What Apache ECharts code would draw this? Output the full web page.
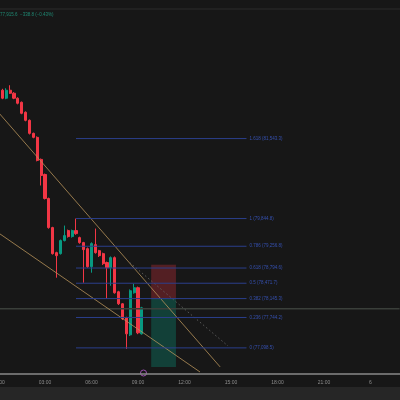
<!DOCTYPE html>
<html>
<head>
<meta charset="utf-8">
<script src="https://cdn.jsdelivr.net/npm/echarts@6/dist/echarts.min.js"></script>
<style>
  html, body { margin: 0; padding: 0; background: #171717; }
  #chart { width: 400px; height: 400px; }
</style>
</head>
<body>
<div id="chart"></div>
<script>
// 15 minute candles, [open, close, low, high]
let candles = [
    [82783, 82676, 82650, 82800], [82570, 82400, 82380, 82600], [82400, 82570, 82380, 82612],
    [82570, 82506, 82490, 82676], [82506, 82400, 82380, 82530], [82400, 82293, 82270, 82420],
    [82314, 82080, 82060, 82330], [82102, 81931, 81910, 82120], [81931, 81654, 81630, 81950],
    [81654, 81569, 81550, 81670], [81569, 81080, 81060, 81590], [81101, 80760, 80547, 81120],
    [80781, 80271, 80250, 80800], [80271, 79653, 79630, 80290], [79653, 79100, 79080, 79670],
    [79121, 79057, 78589, 79140], [79100, 79377, 79080, 79400], [79377, 79483, 79360, 79696],
    [79589, 79462, 79440, 79610], [79462, 79589, 79440, 79610], [79589, 79525, 79500, 79845],
    [79440, 79334, 79310, 79460], [79334, 79185, 78482, 79350], [79206, 78823, 78800, 79230],
    [78823, 79313, 78695, 79340], [79291, 79121, 79100, 79632], [79163, 79057, 79030, 79180],
    [79100, 78887, 78860, 79120], [78910, 78802, 78142, 78930], [78802, 79015, 78418, 79040],
    [79015, 78269, 78250, 79040], [78290, 78035, 78010, 78310], [78035, 77716, 77690, 78050],
    [77737, 77397, 77077, 77760], [77375, 78312, 77350, 78340], [78269, 78376, 78250, 78461],
    [78376, 77418, 77390, 78400], [77397, 77950, 77380, 77970]
];
let fibPrices = [81543.3, 79844.8, 79256.8, 78794.6, 78471.7, 78145.3, 77744.2, 77098.5];
let fibLabels = ['1.618 (81,543.3)', '1 (79,844.8)', '0.786 (79,256.8)', '0.618 (78,794.6)',
    '0.5 (78,471.7)', '0.382 (78,145.3)', '0.236 (77,744.2)', '0 (77,098.5)'];
let fibStart = 20, fibEnd = 64;
let upperTrend = [[-0.5, 82144], [57.2, 76694]];
let lowerTrend = [[-0.5, 79568], [52.0, 76587]];
let dottedTrend = [[33.9, 78908], [59.2, 77141]];
let lastPrice = 77929;
let stopBox = [39.4, 45.8, 78865, 78142];
let targetBox = [39.4, 45.8, 78142, 76694];

let slots = [];
for (let i = 0; i < 104; i++) {
    let m = i * 15;
    let h = Math.floor(m / 60) % 24;
    slots.push((h < 10 ? '0' : '') + h + ':' + (m % 60 === 0 ? '00' : String(m % 60)));
}

let chart = echarts.init(document.getElementById('chart'));
let yMin = 76544, yMax = 84486;
let fibSeries = fibPrices.map(function (p, k) {
    return {
        type: 'line', xAxisIndex: 1, symbol: 'none', silent: true,
        data: [[fibStart, p], [fibEnd, p]],
        lineStyle: { color: '#2b3f8c', width: 1 },
        endLabel: { show: true, formatter: fibLabels[k], color: '#3550b0', fontSize: 4.5, distance: 3 }
    };
});

chart.setOption({
    backgroundColor: '#171717',
    animation: false,
    grid: { left: -3.44, right: 0.44, top: 0, bottom: 26, containLabel: false, outerBoundsMode: 'none' },
    xAxis: [{
        type: 'category', data: slots, boundaryGap: true,
        axisLine: { lineStyle: { color: '#8a8a8a', width: 1.5 } },
        axisTick: { show: false },
        axisLabel: {
            interval: function (i) { return i % 12 === 0; },
            formatter: function (v, i) { return i === 96 ? '6' : v; },
            color: '#8c8c8c', fontSize: 5, margin: 6
        },
        splitLine: { show: false }
    }, {
        type: 'value', min: -0.5, max: 103.5, show: false
    }],
    yAxis: { type: 'value', min: yMin, max: yMax, show: false, splitLine: { show: false } },
    graphic: [
        { type: 'rect', shape: { x: 0, y: 387, width: 400, height: 13 }, style: { fill: '#262626' } },
        { type: 'line', shape: { x1: 0, y1: 9, x2: 400, y2: 9 }, style: { stroke: '#2c2c2c', lineWidth: 1 } },
        { type: 'text', left: 0, top: 12, style: { text: '77,915.6  −338.8 (−0.43%)', fill: '#1f8a74', fontSize: 4.5 } },
        { type: 'circle', shape: { cx: 143.5, cy: 373, r: 3 }, style: { fill: '#171717', stroke: '#9c4fb0', lineWidth: 1 } }
    ],
    series: [{
        type: 'candlestick', data: candles, barWidth: 2.6,
        itemStyle: { color: '#089981', color0: '#f23645', borderColor: '#089981', borderColor0: '#f23645' }
    }, {
        type: 'line', xAxisIndex: 1, symbol: 'none', silent: true, data: [[-0.5, lastPrice], [103.5, lastPrice]],
        lineStyle: { color: '#3a3f3a', width: 1.5 },
        markArea: {
            silent: true,
            data: [
                [{ coord: [stopBox[0], stopBox[2]], itemStyle: { color: 'rgba(242,54,69,0.28)' } }, { coord: [stopBox[1], stopBox[3]] }],
                [{ coord: [targetBox[0], targetBox[2]], itemStyle: { color: 'rgba(8,153,129,0.32)' } }, { coord: [targetBox[1], targetBox[3]] }]
            ]
        }
    }, {
        type: 'line', xAxisIndex: 1, symbol: 'none', silent: true, data: upperTrend,
        lineStyle: { color: '#b8935a', width: 0.8 }
    }, {
        type: 'line', xAxisIndex: 1, symbol: 'none', silent: true, data: lowerTrend,
        lineStyle: { color: '#b8935a', width: 0.8 }
    }, {
        type: 'line', xAxisIndex: 1, symbol: 'none', silent: true, data: dottedTrend,
        lineStyle: { color: '#6a6a6a', width: 0.8, type: [1.5, 2.5] }
    }].concat(fibSeries)
});
</script>
</body>
</html>
